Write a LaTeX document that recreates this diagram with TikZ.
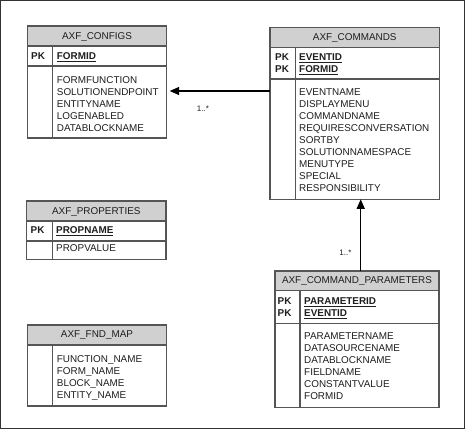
\documentclass[tikz,border=0pt]{standalone}
\usepackage{fontspec}
\setmainfont{Liberation Sans}
\usetikzlibrary{arrows.meta,calc}
\definecolor{hdr}{HTML}{D0D0D0}
\definecolor{edge}{HTML}{555555}
\definecolor{txt}{HTML}{1E1E1E}
\definecolor{frame}{HTML}{333333}
\newcommand{\keyname}[1]{\underline{#1}}
\begin{document}
\begin{tikzpicture}[x=1pt,y=-1pt,
  font=\fontsize{9.9}{12}\selectfont,
  tbl/.style={draw=edge,line width=1.1pt,inner sep=0pt,outer sep=0pt,anchor=north west,rectangle},
  hd/.style={inner sep=0pt,anchor=base,text=txt},
  fld/.style={inner sep=0pt,anchor=base west,text=txt},
  key/.style={fld,font=\fontsize{9.9}{12}\selectfont\bfseries},
  sep/.style={draw=edge,line width=1.1pt},
  rel/.style={draw=black,line width=1.3pt,-{Triangle[length=9.5pt,width=8pt]}},
  mult/.style={inner sep=0pt,font=\fontsize{8}{9}\selectfont,text=txt}]

\useasboundingbox (0,0) rectangle (466,429);
\draw[line width=1.3pt,draw=frame] (0.8,0.8) rectangle (464.6,428.2);

% ---------- AXF_CONFIGS
\fill[hdr] (27.3,26) rectangle (166.7,46);
\node[tbl,minimum width=139.4pt,minimum height=112pt] (cfg) at (27.3,26) {};
\draw[sep] (27.3,46) -- (166.7,46);
\draw[sep] (27.3,66) -- (166.7,66);
\draw[sep] (52.7,46) -- (52.7,138);
\node[hd] (cfg-h) at (97,39.3) {AXF\_CONFIGS};
\node[key] (cfg-pk) at (31,59.6) {PK};
\node[key] (cfg-k1) at (56.7,59.6) {\keyname{FORMID}};
\foreach \t [count=\i] in {FORMFUNCTION,SOLUTIONENDPOINT,ENTITYNAME,LOGENABLED,DATABLOCKNAME}
  \node[fld] (cfg-r\i) at (56.7,{83.5+11.9*(\i-1)}) {\t};

% ---------- AXF_COMMANDS
\fill[hdr] (270,27.3) rectangle (439.3,47.3);
\node[tbl,minimum width=169.3pt,minimum height=172pt] (cmd) at (270,27.3) {};
\draw[sep] (270,47.3) -- (439.3,47.3);
\draw[sep] (270,79) -- (439.3,79);
\draw[sep] (295.3,47.3) -- (295.3,199.3);
\node[hd] (cmd-h) at (354.7,40.3) {AXF\_COMMANDS};
\node[key] (cmd-pk1) at (275,60.9) {PK};
\node[key] (cmd-pk2) at (275,72.6) {PK};
\node[key] (cmd-k1) at (299,60.9) {\keyname{EVENTID}};
\node[key] (cmd-k2) at (299,72.6) {\keyname{FORMID}};
\foreach \t [count=\i] in {EVENTNAME,DISPLAYMENU,COMMANDNAME,REQUIRESCONVERSATION,SORTBY,SOLUTIONNAMESPACE,MENUTYPE,SPECIAL,RESPONSIBILITY}
  \node[fld] (cmd-r\i) at (299,{95.3+12*(\i-1)}) {\t};

% ---------- AXF_COMMAND_PARAMETERS
\fill[hdr] (275,271) rectangle (439,290.7);
\node[tbl,minimum width=164pt,minimum height=136.3pt] (par) at (275,271) {};
\draw[sep] (275,290.7) -- (439,290.7);
\draw[sep] (275,323.3) -- (439,323.3);
\draw[sep] (300,290.7) -- (300,407.3);
\node[hd] (par-h) at (357,283.6) {AXF\_COMMAND\_PARAMETERS};
\node[key] (par-pk1) at (277.5,304.3) {PK};
\node[key] (par-pk2) at (277.5,316.3) {PK};
\node[key] (par-k1) at (304,304.3) {\keyname{PARAMETERID}};
\node[key] (par-k2) at (304,316.3) {\keyname{EVENTID}};
\foreach \t [count=\i] in {PARAMETERNAME,DATASOURCENAME,DATABLOCKNAME,FIELDNAME,CONSTANTVALUE,FORMID}
  \node[fld] (par-r\i) at (304,{339.6+12*(\i-1)}) {\t};

% ---------- AXF_PROPERTIES
\fill[hdr] (26.7,201) rectangle (166,221);
\node[tbl,minimum width=139.3pt,minimum height=58.3pt] (prp) at (26.7,201) {};
\draw[sep] (26.7,221) -- (166,221);
\draw[sep] (26.7,241) -- (166,241);
\draw[sep] (52.7,221) -- (52.7,259.3);
\node[hd] (prp-h) at (96.3,214.9) {AXF\_PROPERTIES};
\node[key] (prp-pk) at (30.5,233.9) {PK};
\node[key] (prp-k1) at (56,233.9) {\keyname{PROPNAME}};
\node[fld] (prp-r1) at (56,251.6) {PROPVALUE};

% ---------- AXF_FND_MAP
\fill[hdr] (27.3,325) rectangle (166.7,345);
\node[tbl,minimum width=139.4pt,minimum height=81pt] (fnd) at (27.3,325) {};
\draw[sep] (27.3,345) -- (166.7,345);
\draw[sep] (52.7,345) -- (52.7,406);
\node[hd] (fnd-h) at (97,337.6) {AXF\_FND\_MAP};
\foreach \t [count=\i] in {FUNCTION\_NAME,FORM\_NAME,BLOCK\_NAME,ENTITY\_NAME}
  \node[fld] (fnd-r\i) at (56.7,{362.9+12*(\i-1)}) {\t};

% ---------- relationships
\coordinate (a1) at (cmd.west |- 0,91);
\draw[rel,shorten >=3pt] (a1) -- (a1 -| cfg.east);
\node[mult] (m1) at (203,108.3) {1..*};
\coordinate (a2) at ($(par.north)+(3.7,0)$);
\draw[rel] (a2) -- (a2 |- cmd.south);
\node[mult] (m2) at (345.5,252.7) {1..*};
\end{tikzpicture}
\end{document}
